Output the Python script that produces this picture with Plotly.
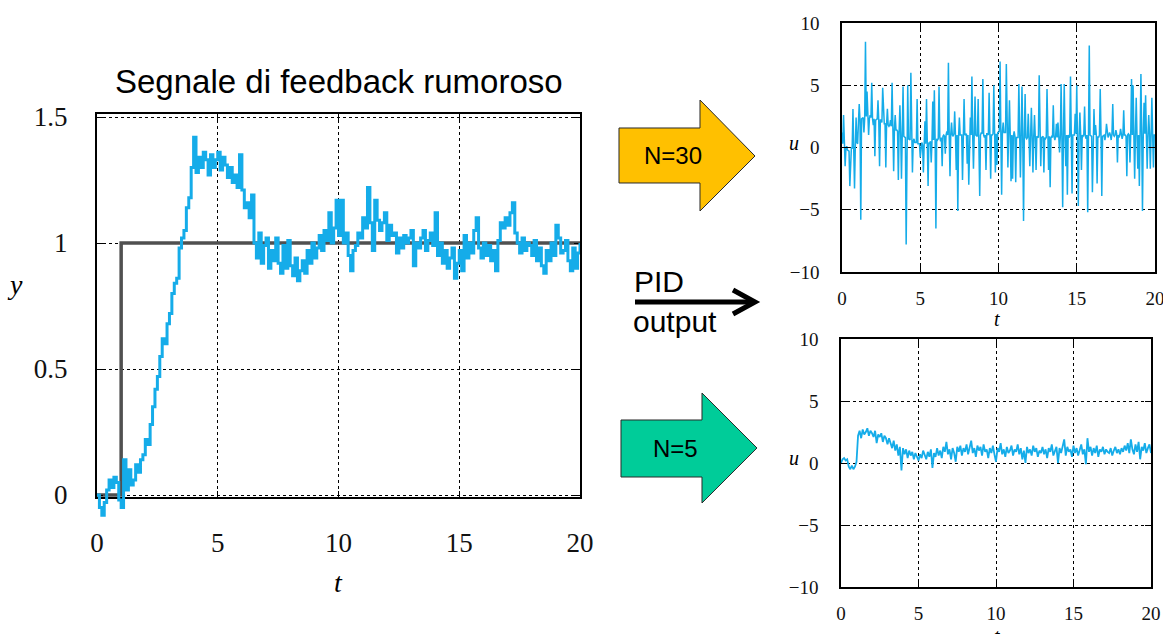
import plotly.graph_objects as go

W, H = 1163, 634

# ---------------- data ----------------
t_y = [round(i * 0.1, 1) for i in range(201)]
y_feedback = [
    0.00, -0.05, -0.08, -0.03, 0.02, 0.06, 0.03, 0.07, 0.05, -0.02,
    -0.05, 0.14, 0.02, 0.10, 0.04, 0.06, 0.12, 0.09, 0.14, 0.16,
    0.22, 0.20, 0.28, 0.35, 0.42, 0.47, 0.55, 0.62, 0.60, 0.68,
    0.72, 0.80, 0.84, 0.86, 0.98, 1.02, 1.05, 1.14, 1.18, 1.30,
    1.42, 1.28, 1.34, 1.30, 1.36, 1.33, 1.27, 1.35, 1.30, 1.33,
    1.36, 1.29, 1.34, 1.31, 1.26, 1.30, 1.24, 1.27, 1.22, 1.35,
    1.21, 1.14, 1.16, 1.10, 1.19, 1.00, 0.94, 1.04, 0.92, 0.99,
    1.02, 0.90, 0.97, 0.93, 1.02, 0.92, 0.88, 0.99, 0.90, 1.01,
    0.91, 0.87, 0.94, 0.85, 0.89, 0.93, 0.88, 0.97, 0.92, 1.00,
    0.94, 0.98, 1.03, 0.97, 1.05, 1.01, 1.12, 1.00, 1.06, 1.17,
    1.03, 1.17, 1.00, 1.04, 0.95, 0.89, 0.97, 0.99, 1.04, 1.02,
    1.10, 1.06, 1.22, 1.08, 0.97, 1.17, 1.09, 1.05, 1.08, 1.12,
    1.01, 1.07, 1.03, 1.04, 0.96, 1.02, 0.98, 1.03, 1.00, 1.02,
    1.05, 0.91, 1.00, 0.98, 1.02, 1.05, 0.97, 1.01, 1.04, 0.99,
    1.12, 0.95, 1.00, 0.92, 0.97, 0.90, 0.94, 0.98, 0.86, 0.92,
    0.97, 0.89, 1.03, 0.94, 1.00, 0.96, 1.05, 1.10, 0.98, 0.94,
    1.00, 0.95, 0.99, 0.93, 0.97, 0.89, 1.01, 1.08, 1.06, 1.10,
    1.07, 1.12, 1.16, 1.04, 1.00, 0.96, 1.02, 0.97, 1.00, 0.99,
    0.95, 1.01, 0.93, 0.98, 0.91, 0.88, 0.97, 0.93, 1.00, 0.95,
    1.07, 1.02, 0.96, 0.97, 1.01, 0.93, 0.89, 0.98, 0.90, 0.96,
    1.00,
]
t_ref = [0, 1, 1, 20]
y_ref = [0, 0, 1, 1]

# N=30: spike samples at t = 0.0, 0.1, ... 20.0
t_u = [round(i * 0.1, 1) for i in range(201)]
u_n30_spikes = [
    1.2, 2.6, -1.5, 0.1, -0.3, -3.1, 0.0, 3.1, -3.3, 2.4,
    0.3, 3.5, -5.8, 2.4, 1.2, 8.5, 4.5, 1.0, 2.6, 5.2,
    1.8, -0.7, 2.3, 3.8, -1.5, 2.2, 4.8, 1.9, -1.6, 3.1,
    1.7, 2.2, 5.2, -1.9, 2.6, 1.4, -2.6, 3.4, -2.5, 4.9,
    0.8, -7.8, 5.0, 0.6, 6.0, -2.0, 0.7, 0.4, 3.9, 0.3,
    -0.8, 0.4, -2.0, 2.1, 3.9, -3.1, 0.3, -1.2, 3.7, 4.6,
    -6.5, 0.6, 4.9, 0.5, -1.5, 1.0, -0.5, 1.3, 6.8, -2.3,
    2.0, 0.9, 2.9, -1.8, -5.1, 2.4, 1.0, -2.6, 3.9, 1.1,
    -1.3, -3.0, 2.4, 5.7, -1.7, 4.1, 0.9, 3.9, -3.9, 1.2,
    5.5, 0.8, -1.8, 1.1, 4.4, -2.5, 1.0, 5.0, -2.0, -1.4,
    1.2, 6.9, -3.8, 2.0, 1.2, 6.7, -1.6, 3.8, -2.7, -2.5,
    1.3, -2.8, 0.8, 5.1, -2.4, 4.9, -5.9, 4.3, 0.7, 2.7,
    -1.5, 3.2, -2.0, 2.6, -1.8, 0.8, 5.8, -1.5, 0.9, -2.0,
    0.7, 4.7, -1.8, -3.2, 0.9, 3.4, 0.6, 1.9, 2.0, -0.4,
    5.1, -4.8, 5.1, -1.5, -3.8, 0.8, 5.7, -3.7, 1.0, 2.7,
    5.0, -4.7, 2.8, -1.8, 0.9, 3.3, 0.7, -5.2, 8.2, 0.9,
    -3.6, 3.1, 1.8, -2.9, 0.8, 4.7, -3.9, 1.0, 0.6, 1.9,
    0.8, 1.2, 0.6, 3.5, 0.9, 1.4, -1.2, 0.8, 1.5, 0.7,
    3.0, 1.0, -2.3, 1.1, -1.2, 5.5, 5.0, -2.5, 4.0, -1.7,
    -3.1, 5.9, -5.1, 3.6, 4.2, -1.7, 2.6, -1.7, 4.0, -1.6,
    1.0,
]
# N=30: slow baseline band read between spikes, at t = 0.05, 0.15, ... 19.95
t_u_mid = [round(0.05 + i * 0.1, 2) for i in range(200)]
u_n30_base = [
    0.3, 0.1, -0.1, -0.2, -0.3, -0.2, -0.1, -0.2, 0.0, 0.4,
    2.0, 2.2, 2.3, 2.4, 2.3, 2.5, 2.4, 2.3, 2.4, 2.3,
    2.3, 2.2, 2.3, 2.1, 2.2, 2.0, 2.1, 1.9, 1.9, 1.8,
    1.8, 1.7, 1.6, 1.5, 1.4, 1.3, 1.3, 1.1, 1.0, 0.9,
    0.8, 0.7, 0.7, 0.6, 0.5, 0.5, 0.4, 0.4, 0.3, 0.3,
    0.3, 0.2, 0.2, 0.3, 0.4, 0.4, 0.5, 0.5, 0.6, 0.6,
    0.7, 0.7, 0.8, 0.8, 0.9, 0.9, 1.0, 1.0, 1.0, 1.1,
    1.0, 1.1, 1.0, 1.0, 0.9, 1.0, 1.0, 0.9, 1.0, 1.1,
    1.0, 1.1, 1.0, 1.0, 1.1, 1.0, 0.9, 1.0, 1.0, 1.1,
    1.0, 1.0, 1.1, 1.0, 1.1, 1.0, 1.1, 1.2, 1.1, 1.2,
    1.3, 1.2, 1.3, 1.2, 1.2, 1.1, 1.1, 1.0, 1.0, 0.9,
    0.9, 0.8, 0.8, 0.9, 0.8, 0.8, 0.9, 0.8, 0.8, 0.8,
    0.8, 0.9, 0.8, 0.8, 0.9, 0.8, 0.8, 0.8, 0.9, 0.8,
    0.8, 0.8, 0.9, 0.8, 0.8, 0.9, 0.9, 0.8, 0.9, 0.9,
    0.9, 1.0, 0.9, 1.0, 1.0, 0.9, 1.0, 1.0, 1.0, 1.1,
    1.0, 1.0, 1.1, 1.0, 1.0, 0.9, 1.0, 1.0, 1.0, 0.9,
    0.9, 1.0, 1.0, 0.9, 1.0, 1.0, 0.9, 1.0, 1.0, 0.9,
    1.0, 1.0, 1.1, 1.0, 1.0, 1.1, 1.0, 1.0, 1.1, 1.0,
    1.0, 0.9, 1.0, 1.0, 1.1, 1.0, 1.0, 1.1, 1.0, 1.0,
    1.1, 1.0, 1.0, 1.1, 1.0, 1.0, 1.1, 1.0, 1.0, 1.0,
]
u_n5 = [
    0.0, 0.3, 0.4, 0.2, 0.3, -0.3, -0.5, -0.2, -0.5, -0.3,
    0.1, 2.2, 2.6, 2.0, 2.7, 2.3, 2.5, 2.8, 2.2, 2.6,
    2.4, 2.1, 2.6, 1.6, 2.3, 2.1, 2.4, 1.7, 2.2, 2.0,
    1.5, 2.0, 1.6, 1.2, 1.8, 1.0, 1.5, 0.6, 1.3, -0.6,
    1.2, 0.7, 1.1, 0.4, 1.0, 0.6, 0.9, 0.3, 0.8, 0.5,
    0.2, 0.7, 0.4, 1.0, 0.6, 0.3, 0.9, 0.5, 1.1, -0.4,
    0.8, 0.5, 1.2, 0.6, 1.0, 0.4, 1.3, 0.9, 1.7, 0.7,
    1.1, 0.3, 1.2, 0.8, 0.1, 1.3, 0.9, 1.4, 0.6, 1.2,
    0.9, 1.5, 0.7, 1.3, 1.8, 0.8, 1.2, 0.5, 1.4, 1.0,
    1.3, 0.6, 1.5, 0.9, 1.1, 0.4, 1.2, 0.8, 1.4, 0.7,
    0.1, 1.2, 0.9, 1.6, 0.7, 1.1, 0.5, 1.3, 0.8, 1.0,
    1.4, 0.6, 1.1, 0.9, 1.5, 0.7, 1.2, 0.3, 1.0, 0.0,
    1.3, 0.8, 1.1, 0.6, 1.4, 0.9, 1.2, 0.5, 1.0, 0.8,
    1.3, 0.7, 1.1, 0.4, 1.2, 0.9, 1.5, 0.6, 1.0, 1.3,
    0.0, 1.2, 0.8, 1.4, 1.9, 0.6, 1.3, 0.9, 1.1, 0.5,
    1.4, 0.8, 1.2, 0.6, 1.0, 1.5, 0.7, 1.1, -0.1, 2.0,
    0.9, 1.3, 0.6, 1.2, 0.8, 1.4, 0.5, 1.1, 0.9, 1.3,
    0.7, 1.1, 0.9, 0.8, 1.2, 0.6, 1.0, 1.3, 0.8, 1.1,
    0.7, 1.2, 0.9, 1.4, 1.0, 1.6, 0.8, 1.9, 1.1, 0.7,
    1.5, 0.9, 1.7, 0.3, 1.3, 1.0, 1.6, 0.8, 1.2, 1.5,
    0.8,
]

x_ticks = [0, 5, 10, 15, 20]
x_ticktext = ["0", "5", "10", "15", "20"]
y_ticks_left = [0, 0.5, 1, 1.5]
y_ticktext_left = ["0", "0.5", "1", "1.5"]
u_ticks = [-10, -5, 0, 5, 10]
u_ticktext = ["\u221210", "\u22125", "0", "5", "10"]

title_text = "Segnale di feedback rumoroso"
label_n30 = "N=30"
label_n5 = "N=5"

# merge the two read N=30 lists in time order
t_n30, u_n30 = [], []
for i in range(len(t_u)):
    t_n30.append(t_u[i]); u_n30.append(u_n30_spikes[i])
    if i < len(t_u_mid):
        t_n30.append(t_u_mid[i]); u_n30.append(u_n30_base[i])

# ---------------- helpers ----------------
def X(px):
    return px / W

def Y(py):
    return 1 - py / H

BLUE = "#15ACE9"
SERIF = "Liberation Serif, Times New Roman, serif"
SANS = "Liberation Sans, Arial, sans-serif"

fig = go.Figure()

fig.add_trace(go.Scatter(x=t_ref, y=y_ref, mode="lines",
                         line=dict(color="#505050", width=3.5),
                         xaxis="x", yaxis="y", showlegend=False, hoverinfo="skip"))
fig.add_trace(go.Scatter(x=t_y, y=y_feedback, mode="lines",
                         line=dict(color=BLUE, width=3, shape="hv"),
                         xaxis="x2", yaxis="y2", showlegend=False, hoverinfo="skip"))
fig.add_trace(go.Scatter(x=t_n30, y=u_n30, mode="lines",
                         line=dict(color=BLUE, width=1.5),
                         xaxis="x3", yaxis="y3", showlegend=False, hoverinfo="skip"))
fig.add_trace(go.Scatter(x=t_u, y=u_n5, mode="lines",
                         line=dict(color=BLUE, width=1.8),
                         xaxis="x4", yaxis="y4", showlegend=False, hoverinfo="skip"))

def axis_common(fs, lw, standoff):
    return dict(showline=True, linecolor="black", linewidth=lw, mirror="ticks",
                ticks="inside", ticklen=6, tickwidth=1.3, tickcolor="black",
                showgrid=True, gridcolor="black", griddash="dot", gridwidth=1,
                zeroline=False, tickfont=dict(family=SERIF, size=fs, color="#111"),
                ticklabelstandoff=standoff, fixedrange=True, automargin=False,
                ticklabeloverflow="allow")

left_x = [X(97), X(580)]
y_bot_left = 497
y_top_left = 114
ppu = 252.0
y0_px = 495
ymin_main = -(y_bot_left - y0_px) / ppu
ymax_main = (y0_px - y_top_left) / ppu
ext_bot = 528
ymin_ext = -(ext_bot - y0_px) / ppu

lay = dict(
    width=W, height=H, autosize=False,
    margin=dict(l=0, r=0, t=0, b=0, pad=0, autoexpand=False),
    paper_bgcolor="white", plot_bgcolor="rgba(0,0,0,0)",
    showlegend=False,
    xaxis=dict(domain=left_x, range=[0, 20], anchor="y",
               tickvals=x_ticks, ticktext=x_ticktext, **axis_common(27, 2.2, 20)),
    yaxis=dict(domain=[Y(y_bot_left), Y(y_top_left)], range=[ymin_main, ymax_main], anchor="x",
               tickvals=y_ticks_left, ticktext=y_ticktext_left, **axis_common(27, 2.2, 22)),
    xaxis2=dict(domain=left_x, range=[0, 20], anchor="y2", visible=False, fixedrange=True,
                automargin=False),
    yaxis2=dict(domain=[Y(ext_bot), Y(y_top_left)], range=[ymin_ext, ymax_main],
                anchor="x2", visible=False, fixedrange=True, automargin=False),
    xaxis3=dict(domain=[X(842), X(1155)], range=[0, 20], anchor="y3",
                tickvals=x_ticks, ticktext=x_ticktext, **axis_common(19, 1.6, 8)),
    yaxis3=dict(domain=[Y(272), Y(23)], range=[-10, 10], anchor="x3",
                tickvals=u_ticks, ticktext=u_ticktext, **axis_common(19, 1.6, 17)),
    xaxis4=dict(domain=[X(841), X(1151)], range=[0, 20], anchor="y4",
                tickvals=x_ticks, ticktext=x_ticktext, **axis_common(19, 1.6, 8)),
    yaxis4=dict(domain=[Y(587), Y(339)], range=[-10, 10], anchor="x4",
                tickvals=u_ticks, ticktext=u_ticktext, **axis_common(19, 1.6, 17)),
)
fig.update_layout(**lay)

def ann(text, px, py, fam, size, xanchor="center", yanchor="middle"):
    fig.add_annotation(text=text, x=X(px), y=Y(py), xref="paper", yref="paper",
                       showarrow=False, xanchor=xanchor, yanchor=yanchor,
                       font=dict(family=fam, size=size, color="black"))

ann("<i>y</i>", 15, 284, SERIF, 28)
ann("<i>t</i>", 338, 582, SERIF, 28)
ann("<i>u</i>", 794, 143, SERIF, 20)
ann("<i>t</i>", 997, 319, SERIF, 20)
ann("<i>u</i>", 794, 458, SERIF, 20)
ann("<i>t</i>", 997, 636, SERIF, 20)

ann(title_text, 339, 82, SANS, 33)
ann("PID", 632, 281, SANS, 30, xanchor="left")
ann("output", 631, 322, SANS, 30, xanchor="left")
ann(label_n30, 673, 155, SANS, 24)
ann(label_n5, 675, 448, SANS, 24)

def poly(points, fill):
    d = "M " + " L ".join(f"{X(a):.5f},{Y(b):.5f}" for a, b in points) + " Z"
    fig.add_shape(type="path", path=d, xref="paper", yref="paper",
                  fillcolor=fill, line=dict(color="#2a2a2a", width=1), layer="below")

poly([(619, 128), (700, 128), (700, 100), (755, 156), (700, 211), (700, 183), (619, 183)], "#FFC000")
poly([(621, 420), (702, 420), (702, 393), (757, 448), (702, 503), (702, 477), (621, 477)], "#00CC99")

fig.add_shape(type="line", x0=X(635), y0=Y(302), x1=X(752), y1=Y(302),
              xref="paper", yref="paper", line=dict(color="black", width=5))
fig.add_shape(type="path",
              path=f"M {X(733):.5f},{Y(290):.5f} L {X(755):.5f},{Y(302):.5f} L {X(733):.5f},{Y(314):.5f}",
              xref="paper", yref="paper", line=dict(color="black", width=5))

fig.write_html("out.html")
